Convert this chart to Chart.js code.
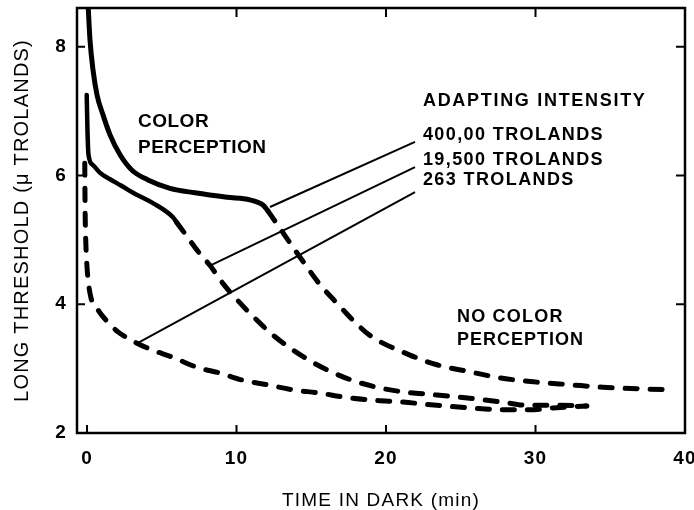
<!DOCTYPE html>
<html>
<head>
<meta charset="utf-8">
<script src="https://cdn.jsdelivr.net/npm/chart.js@4/dist/chart.umd.min.js"></script>
<style>
  html, body { margin: 0; padding: 0; background: #fff; }
</style>
</head>
<body>
<canvas id="c" width="694" height="510"></canvas>
<script>
// Dark adaptation: log threshold against time in the dark, for three adapting intensities.
// Solid parts = colour is still seen at threshold, dashed parts = no colour perception.

// 400,000 trolands
const colorTime400k   = [0.05, 0.2, 0.4, 0.67, 1.07, 1.54, 2.21, 3.01, 4.08, 5.55, 7.22, 9.36, 10.9, 11.77, 12.1];
const colorThresh400k = [8.75, 8.10, 7.64, 7.25, 6.94, 6.63, 6.32, 6.08, 5.93, 5.80, 5.73, 5.66, 5.62, 5.54, 5.45];
const rodTime400k     = [12.1, 12.9, 14.25, 15.6, 16.7, 17.8, 18.9, 21.6, 23.4, 25.6, 27.8, 30.1, 32.3, 34.5, 39.0];
const rodThresh400k   = [5.45, 5.18, 4.73, 4.30, 4.02, 3.75, 3.52, 3.21, 3.06, 2.95, 2.85, 2.79, 2.75, 2.71, 2.67];

// 19,500 trolands
const colorTime19500   = [-0.02, 0.03, 0.1, 0.4, 0.87, 1.54, 2.3, 3.08, 4.41, 5.75, 6.0];
const colorThresh19500 = [7.25, 6.70, 6.32, 6.16, 6.04, 5.94, 5.84, 5.73, 5.57, 5.35, 5.27];
const rodTime19500     = [6.0, 6.6, 7.56, 8.23, 9.1, 10.23, 11.37, 12.44, 13.58, 14.92, 16.25, 17.59, 19.4, 21.1, 23.4, 25.6, 27.8, 29.4, 31.2, 33.4];
const rodThresh19500   = [5.27, 5.08, 4.78, 4.60, 4.32, 4.02, 3.75, 3.52, 3.32, 3.12, 2.96, 2.83, 2.71, 2.64, 2.59, 2.54, 2.48, 2.43, 2.43, 2.42];

// 263 trolands (no colour perception at any time)
const rodTime263   = [-0.15, -0.13, -0.1, 0, 0.2, 0.74, 1.4, 2.07, 3.21, 4.35, 5.69, 7.36, 8.9, 10.43, 12.04, 13.78, 15.59, 17.12, 19.13, 21.14, 23.41, 25.62, 27.83, 29.63, 31.17, 33.44];
const rodThresh263 = [6.19, 5.51, 5.11, 4.58, 4.17, 3.91, 3.72, 3.57, 3.41, 3.29, 3.18, 3.02, 2.93, 2.82, 2.75, 2.67, 2.62, 2.56, 2.51, 2.48, 2.43, 2.39, 2.36, 2.36, 2.39, 2.42];

// Leader lines from the intensity labels to their curves
const leaderTime400k     = [12.24, 21.94];
const leaderThresh400k   = [5.51, 6.52];
const leaderTime19500    = [8.23, 21.94];
const leaderThresh19500  = [4.60, 6.13];
const leaderTime263      = [3.41, 21.94];
const leaderThresh263    = [3.40, 5.74];

// Axis ticks
const xTickValues = [0, 10, 20, 30, 40];
const yTickValues = [2, 4, 6, 8];
const xInnerTicksBottom = [0, 10, 20, 30];
const xInnerTicksTop = [10, 20, 30];
const yInnerTicksLeft = [4, 6, 8];
const yInnerTicksRight = [4, 6, 8];

const FONT = '"Liberation Sans", Arial, Helvetica, sans-serif';

// Text placed inside the plot, anchored in data units (left edge, vertical middle)
const plotLabels = [
  { text: 'COLOR', x: 3.41, y: 6.84, size: 19, spacing: 0.5 },
  { text: 'PERCEPTION', x: 3.41, y: 6.43, size: 19, spacing: 0.5 },
  { text: 'ADAPTING INTENSITY', x: 22.47, y: 7.16, size: 18, spacing: 1.7 },
  { text: '400,00 TROLANDS', x: 22.47, y: 6.63, size: 18, spacing: 1.4 },
  { text: '19,500 TROLANDS', x: 22.47, y: 6.24, size: 18, spacing: 1.4 },
  { text: '263 TROLANDS', x: 22.47, y: 5.93, size: 18, spacing: 1.4 },
  { text: 'NO COLOR', x: 24.75, y: 3.80, size: 18, spacing: 1.2 },
  { text: 'PERCEPTION', x: 24.75, y: 3.44, size: 18, spacing: 1.0 }
];

function pairs(xs, ys) {
  return xs.map((v, i) => ({ x: v, y: ys[i] }));
}

function solid(xs, ys, width) {
  return {
    data: pairs(xs, ys), borderColor: '#000', borderWidth: width,
    pointRadius: 0, cubicInterpolationMode: 'monotone', borderCapStyle: 'round', borderJoinStyle: 'round', fill: false
  };
}
function dashed(xs, ys) {
  return {
    data: pairs(xs, ys), borderColor: '#000', borderWidth: 5, borderDash: [12, 13],
    pointRadius: 0, cubicInterpolationMode: 'monotone', borderCapStyle: 'round', borderJoinStyle: 'round', fill: false
  };
}
function leader(xs, ys) {
  return {
    data: pairs(xs, ys), borderColor: '#000', borderWidth: 2,
    pointRadius: 0, tension: 0, fill: false
  };
}

const frameAndText = {
  id: 'frameAndText',
  beforeDraw(chart) {
    chart.ctx.letterSpacing = '1.2px';
  },
  afterDraw(chart) {
    const { ctx, chartArea: a, scales: { x, y } } = chart;
    ctx.save();
    ctx.strokeStyle = '#000';
    ctx.lineWidth = 2.5;
    ctx.strokeRect(a.left, a.top, a.right - a.left, a.bottom - a.top);
    ctx.lineWidth = 2;
    ctx.beginPath();
    xInnerTicksBottom.forEach(v => { const p = x.getPixelForValue(v); ctx.moveTo(p, a.bottom); ctx.lineTo(p, a.bottom - 8); });
    xInnerTicksTop.forEach(v => { const p = x.getPixelForValue(v); ctx.moveTo(p, a.top); ctx.lineTo(p, a.top + 9); });
    yInnerTicksLeft.forEach(v => { const p = y.getPixelForValue(v); ctx.moveTo(a.left, p); ctx.lineTo(a.left + 8, p); });
    yInnerTicksRight.forEach(v => { const p = y.getPixelForValue(v); ctx.moveTo(a.right, p); ctx.lineTo(a.right - 9, p); });
    ctx.stroke();

    ctx.fillStyle = '#000';
    ctx.textAlign = 'left';
    ctx.textBaseline = 'middle';
    plotLabels.forEach(l => {
      ctx.font = 'bold ' + l.size + 'px ' + FONT;
      ctx.letterSpacing = l.spacing + 'px';
      ctx.fillText(l.text, x.getPixelForValue(l.x), y.getPixelForValue(l.y));
    });
    ctx.restore();
  }
};

new Chart(document.getElementById('c'), {
  type: 'scatter',
  data: {
    datasets: [
      solid(colorTime400k, colorThresh400k, 5),
      dashed(rodTime400k, rodThresh400k),
      solid(colorTime19500, colorThresh19500, 4.5),
      dashed(rodTime19500, rodThresh19500),
      dashed(rodTime263, rodThresh263),
      leader(leaderTime400k, leaderThresh400k),
      leader(leaderTime19500, leaderThresh19500),
      leader(leaderTime263, leaderThresh263)
    ].map(d => Object.assign(d, { showLine: true }))
  },
  options: {
    responsive: false,
    devicePixelRatio: 1,
    animation: false,
    layout: { padding: { top: 8, right: 9, left: 0, bottom: 0 } },
    plugins: { legend: { display: false }, tooltip: { enabled: false } },
    scales: {
      x: {
        type: 'linear', min: -0.67, max: 40,
        afterBuildTicks: s => { s.ticks = xTickValues.map(v => ({ value: v })); },
        afterFit: s => { s.height = 77; s.paddingLeft = 0; s.paddingRight = 0; },
        grid: { display: false, drawTicks: false },
        border: { display: false },
        ticks: { color: '#000', font: { family: FONT, size: 19, weight: 'bold' }, padding: 14, maxRotation: 0 },
        title: { display: true, text: 'TIME IN DARK (min)', color: '#000',
                 font: { family: FONT, size: 19, weight: 'normal' }, padding: { top: 0, bottom: -2 } }
      },
      y: {
        type: 'linear', min: 2, max: 8.6,
        afterBuildTicks: s => { s.ticks = yTickValues.map(v => ({ value: v })); },
        afterFit: s => { s.width = 77; s.paddingTop = 0; s.paddingBottom = 0; },
        grid: { display: false, drawTicks: false },
        border: { display: false },
        ticks: { color: '#000', font: { family: FONT, size: 19, weight: 'bold' }, padding: 10 },
        title: { display: true, text: 'LONG THRESHOLD (\u03BC TROLANDS)', color: '#000',
                 font: { family: FONT, size: 20, weight: 'normal' }, padding: { top: 10, bottom: 0 } }
      }
    }
  },
  plugins: [frameAndText]
});
</script>
</body>
</html>
